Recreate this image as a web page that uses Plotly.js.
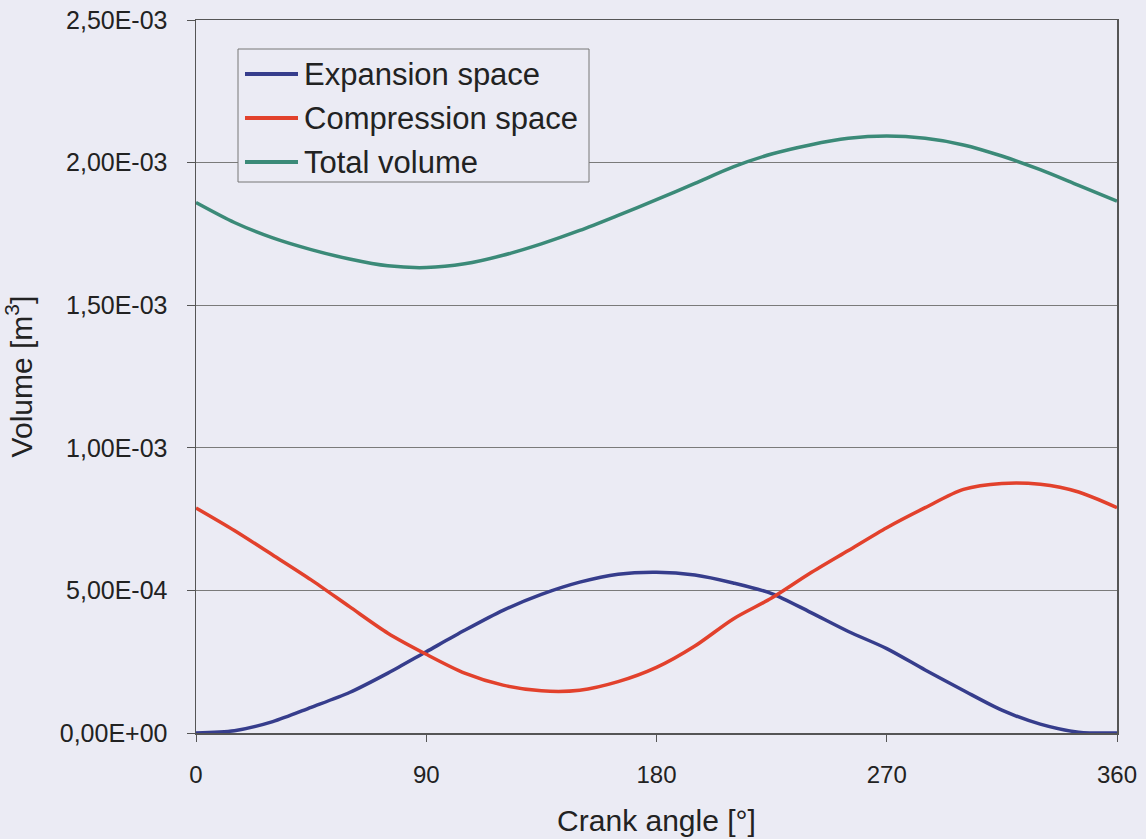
<!DOCTYPE html>
<html>
<head>
<meta charset="utf-8">
<script src="https://cdn.plot.ly/plotly-3.0.1.min.js"></script>
<style>html,body{margin:0;padding:0;background:#ebebf4;}#chart{width:1146px;height:839px;}</style>
</head>
<body>
<div id="chart"></div>
<script>
// Crank angle [°]
var crankAngle = [0,15,30,45,60,75,90,105,120,135,150,165,180,195,210,225,240,255,270,285,300,315,330,345,360];
// Volumes in 1E-3 m³
var expansionSpace = [0,0.008,0.04,0.09,0.142,0.21,0.285,0.36,0.43,0.486,0.529,0.557,0.564,0.554,0.526,0.489,0.424,0.356,0.296,0.221,0.149,0.08,0.031,0.003,0];
var compressionSpace = [0.789,0.71,0.624,0.537,0.443,0.35,0.276,0.21,0.168,0.148,0.15,0.18,0.23,0.305,0.40,0.473,0.56,0.64,0.72,0.79,0.854,0.875,0.872,0.845,0.79];
var totalVolume = [1.86,1.79,1.736,1.695,1.662,1.638,1.632,1.645,1.675,1.715,1.762,1.815,1.87,1.927,1.985,2.03,2.062,2.085,2.093,2.085,2.062,2.023,1.975,1.92,1.865];
var seriesNames = ["Expansion space","Compression space","Total volume"];
var seriesColors = ["#363d8c","#e2412c","#3b8a78"];
var yTickVals = [0,0.5,1.0,1.5,2.0,2.5];
var yTickText = ["0,00E+00","5,00E-04","1,00E-03","1,50E-03","2,00E-03","2,50E-03"];
var xTickVals = [0,90,180,270,360];

function scale(a){ return a.map(function(v){ return v*1e-3; }); }
var seriesData = [expansionSpace, compressionSpace, totalVolume];
var traces = seriesData.map(function(d,i){
  return {x: crankAngle, y: scale(d), type:'scatter', mode:'lines', name: seriesNames[i],
    line:{color: seriesColors[i], width:3.5, shape:'spline', smoothing:0.8}, showlegend:false, hoverinfo:'skip'};
});

var font = "Liberation Sans, Arial, sans-serif";
var shapes = [], annotations = [];
// px -> paper helpers (plot area: x 196..1117, y 20..733)
function px(x){ return (x-196)/921; }
function py(y){ return (733-y)/713; }
shapes.push({type:'rect', xref:'paper', yref:'paper', x0:px(238), x1:px(589), y0:py(182), y1:py(49),
  line:{color:'#777', width:1}, fillcolor:'#ebebf4', layer:'above'});
var rowsY = [74,118,162];
for (var i=0;i<3;i++){
  shapes.push({type:'line', xref:'paper', yref:'paper', x0:px(245), x1:px(298), y0:py(rowsY[i]), y1:py(rowsY[i]),
    line:{color:seriesColors[i], width:4}, layer:'above'});
  annotations.push({xref:'paper', yref:'paper', x:px(302), y:py(rowsY[i]), xanchor:'left', yanchor:'middle',
    text:seriesNames[i], showarrow:false, font:{family:font, size:31, color:'#222'}});
}

var layout = {
  width:1146, height:839,
  margin:{l:196, r:29, t:20, b:106},
  paper_bgcolor:'#ebebf4', plot_bgcolor:'#ebebf4',
  font:{family:font, color:'#222'},
  xaxis:{range:[0,360], tickvals:xTickVals, ticktext:xTickVals.map(String), showgrid:false, zeroline:false,
    showline:true, mirror:true, linecolor:'#555', linewidth:1.5, ticks:'outside', ticklen:7, tickcolor:'#555',
    tickfont:{family:font, size:24, color:'#222'}, ticklabelstandoff:13,
    title:{text:'Crank angle [°]', font:{family:font, size:30, color:'#222'}, standoff:22}},
  yaxis:{range:[0,2.5e-3], tickvals:scale(yTickVals), ticktext:yTickText, showgrid:true, gridcolor:'#7a7a7a', gridwidth:1,
    zeroline:false, showline:true, mirror:true, linecolor:'#555', linewidth:1.5, ticks:'outside', ticklen:8, tickcolor:'#555',
    tickfont:{family:font, size:25, color:'#222'}, ticklabelstandoff:14,
    title:{text:'Volume [m<sup>3</sup>]', font:{family:font, size:30, color:'#222'}, standoff:24}},
  shapes:shapes, annotations:annotations
};
Plotly.newPlot('chart', traces, layout, {displayModeBar:false, staticPlot:true});
</script>
</body>
</html>
